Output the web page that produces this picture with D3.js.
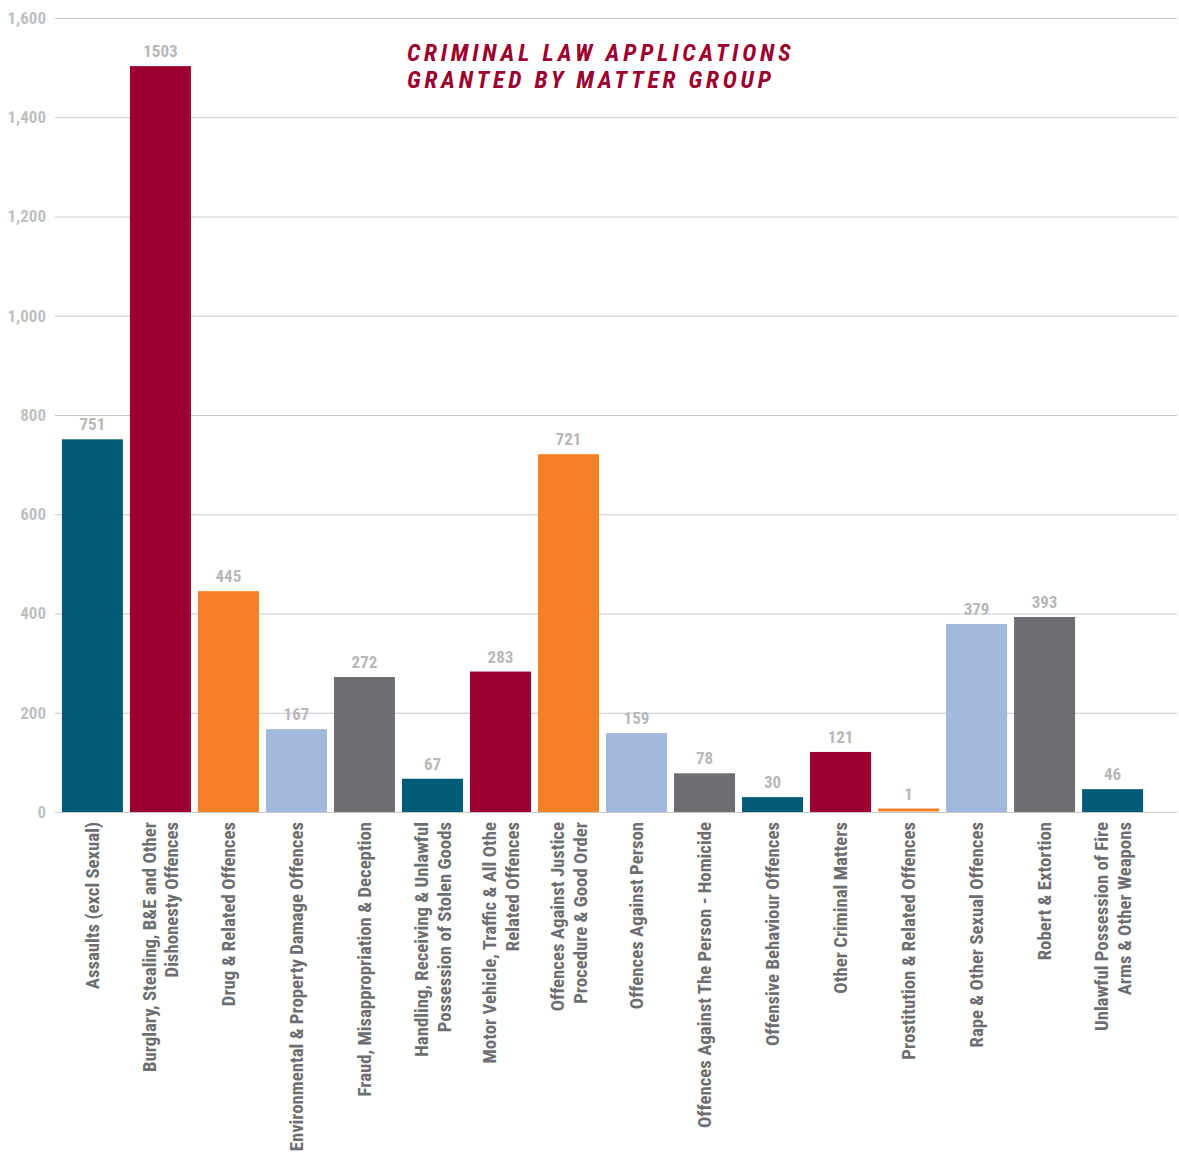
<!DOCTYPE html>
<html lang="en">
<head>
  <meta charset="UTF-8">
  <title>Criminal Law Applications</title>
  <script src="https://cdn.jsdelivr.net/npm/d3@7"></script>
  <style>
    body { margin: 0; background: #fff; }
    text { font-family: "Liberation Sans Narrow", "Roboto Condensed", "Liberation Sans", sans-serif; font-weight: bold; }
  </style>
</head>
<body>
  <div id="wrapper"></div>
  <script>
    // categories (each array entry is one line of the rotated label)
    const categories = [
      ["Assaults (excl Sexual)"],
      ["Burglary, Stealing, B&E and Other", "Dishonesty Offences"],
      ["Drug & Related Offences"],
      ["Environmental & Property Damage Offences"],
      ["Fraud, Misappropriation & Deception"],
      ["Handling, Receiving & Unlawful", "Possession of Stolen Goods"],
      ["Motor Vehicle, Traffic & All Othe", "Related Offences"],
      ["Offences Against Justice", "Procedure & Good Order"],
      ["Offences Against Person"],
      ["Offences Against The Person - Homicide"],
      ["Offensive Behaviour Offences"],
      ["Other Criminal Matters"],
      ["Prostitution & Related Offences"],
      ["Rape & Other Sexual Offences"],
      ["Robert & Extortion"],
      ["Unlawful Possession of Fire", "Arms & Other Weapons"]
    ]
    const values = [751, 1503, 445, 167, 272, 67, 283, 721, 159, 78, 30, 121, 1, 379, 393, 46]
    const yTicks = [0, 200, 400, 600, 800, 1000, 1200, 1400, 1600]
    const palette = ["#005b76", "#9b0030", "#f58025", "#a2b9de", "#6d6e71"]
    const titleLines = ["CRIMINAL LAW APPLICATIONS", "GRANTED BY MATTER GROUP"]

    const dimensions = {
      width: 1179,
      height: 1155,
      margin: { top: 18, right: 2, bottom: 343, left: 55 }
    }
    dimensions.boundedWidth = dimensions.width - dimensions.margin.left - dimensions.margin.right
    dimensions.boundedHeight = dimensions.height - dimensions.margin.top - dimensions.margin.bottom

    const svg = d3.select("#wrapper").append("svg")
      .attr("width", dimensions.width)
      .attr("height", dimensions.height)
    const bounds = svg.append("g")
      .attr("transform", `translate(${dimensions.margin.left},${dimensions.margin.top})`)

    const yScale = d3.scaleLinear()
      .domain([0, 1600])
      .range([dimensions.boundedHeight, 0])

    const idx = d3.range(values.length)
    const xScale = d3.scaleBand()
      .domain(idx)
      .range([3.5, 3.5 + 68 * values.length])
      .paddingInner(7 / 68)
      .paddingOuter(0.05)

    // gridlines
    bounds.append("g").selectAll("line").data(yTicks).join("line")
      .attr("x1", 0)
      .attr("x2", dimensions.boundedWidth)
      .attr("y1", d => yScale(d) + 0.5)
      .attr("y2", d => yScale(d) + 0.5)
      .attr("stroke", "#c9c9c9")
      .attr("stroke-width", 1.2)

    // y tick labels
    bounds.append("g").selectAll("text").data(yTicks).join("text")
      .attr("x", -9)
      .attr("y", d => yScale(d))
      .attr("dy", "0.35em")
      .attr("text-anchor", "end")
      .attr("fill", "#bfc0c2")
      .style("font-size", "17px")
      .text(d => d3.format(",")(d))

    // bars
    bounds.append("g").selectAll("rect").data(idx).join("rect")
      .attr("x", i => xScale(i))
      .attr("y", i => yScale(values[i]))
      .attr("width", xScale.bandwidth())
      .attr("height", i => Math.max(3, yScale(0) - yScale(values[i])))
      .attr("transform", i => values[i] < 5 ? "translate(0,-3)" : null)
      .attr("fill", i => palette[i % palette.length])

    // value labels
    bounds.append("g").selectAll("text").data(idx).join("text")
      .attr("x", i => xScale(i) + xScale.bandwidth() / 2)
      .attr("y", i => yScale(values[i]) - (values[i] < 5 ? 12 : 9))
      .attr("text-anchor", "middle")
      .attr("fill", "#b7b8ba")
      .style("font-size", "17px")
      .text(i => values[i])

    // category labels, rotated
    const lineGap = 23
    const labels = bounds.append("g").selectAll("g").data(idx).join("g")
      .attr("transform", i => {
        const cx = xScale(i) + xScale.bandwidth() / 2
        return `translate(${cx},${yScale(0) + 10}) rotate(-90)`
      })
    labels.each(function (i) {
      const lines = categories[i]
      const n = lines.length
      d3.select(this).selectAll("text").data(lines).join("text")
        .attr("x", 0)
        .attr("y", (d, k) => (k - (n - 1) / 2) * lineGap)
        .attr("dy", "0.35em")
        .attr("text-anchor", "end")
        .attr("fill", "#6d6e71")
        .style("font-size", "18.8px")
        .text(d => d)
    })

    // title
    svg.append("g").selectAll("text").data(titleLines).join("text")
      .attr("x", 407)
      .attr("y", (d, k) => 61 + k * 27)
      .attr("fill", "#9b0030")
      .style("font-size", "24px")
      .style("font-style", "italic")
      .style("letter-spacing", "3.8px")
      .text(d => d)
  </script>
</body>
</html>
